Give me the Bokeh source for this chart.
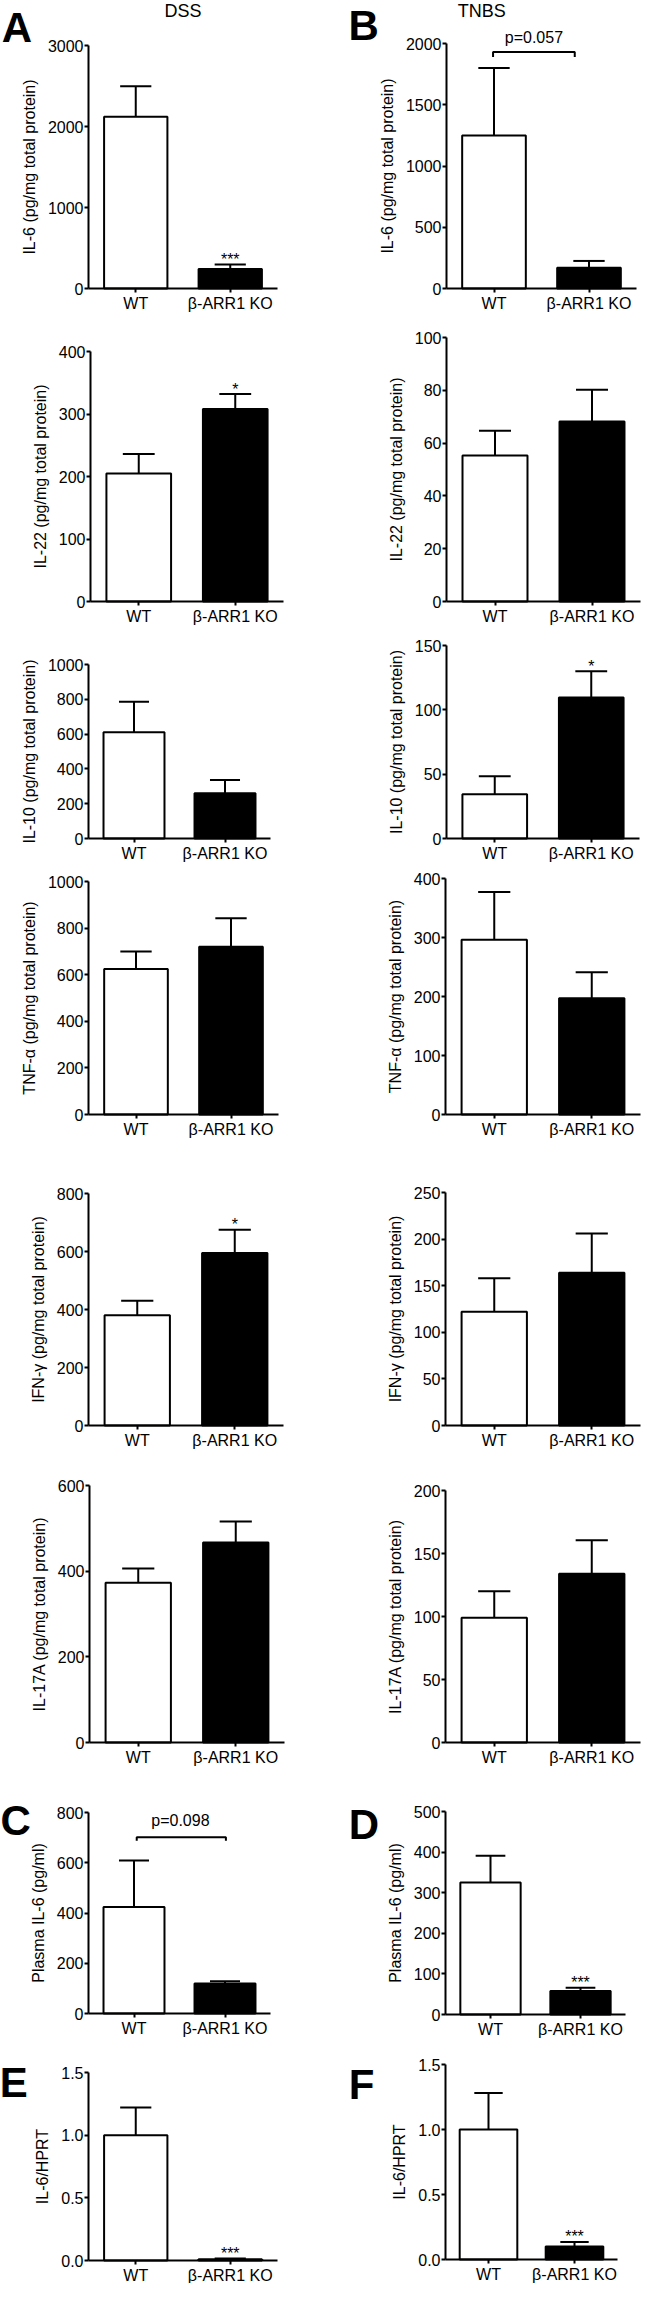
from bokeh.plotting import figure
from bokeh.layouts import column, row
from bokeh.models import Range1d, FixedTicker, NumeralTickFormatter
from bokeh.core.properties import value
from bokeh.embed import file_html
from bokeh.resources import INLINE

FONT = "Liberation Sans"

# ---------------- data ----------------
groups = ["WT", "β-ARR1 KO"]

# DSS (column A, C, E)
dss_il6 = [2120, 240]
dss_il6_err = [377, 57]
dss_il6_ticks = [0, 1000, 2000, 3000]
dss_il6_sig = ["", "***"]

dss_il22 = [205, 308]
dss_il22_err = [31, 24]
dss_il22_ticks = [0, 100, 200, 300, 400]
dss_il22_sig = ["", "*"]

dss_il10 = [610, 260]
dss_il10_err = [176, 76]
dss_il10_ticks = [0, 200, 400, 600, 800, 1000]

dss_tnf = [625, 720]
dss_tnf_err = [75, 122]
dss_tnf_ticks = [0, 200, 400, 600, 800, 1000]

dss_ifn = [380, 595]
dss_ifn_err = [50, 80]
dss_ifn_ticks = [0, 200, 400, 600, 800]
dss_ifn_sig = ["", "*"]

dss_il17a = [373, 467]
dss_il17a_err = [33, 49]
dss_il17a_ticks = [0, 200, 400, 600]

dss_plasma = [424, 119]
dss_plasma_err = [185, 9]
dss_plasma_ticks = [0, 200, 400, 600, 800]

dss_hprt = [1.0, 0.01]
dss_hprt_err = [0.22, 0.006]
dss_hprt_ticks = [0, 0.5, 1.0, 1.5]
dss_hprt_sig = ["", "***"]

# TNBS (column B, D, F)
tnbs_il6 = [1250, 170]
tnbs_il6_err = [550, 55]
tnbs_il6_ticks = [0, 500, 1000, 1500, 2000]

tnbs_il22 = [55.3, 68.2]
tnbs_il22_err = [9.4, 12]
tnbs_il22_ticks = [0, 20, 40, 60, 80, 100]

tnbs_il10 = [34.4, 109.6]
tnbs_il10_err = [13.9, 20.4]
tnbs_il10_ticks = [0, 50, 100, 150]
tnbs_il10_sig = ["", "*"]

tnbs_tnf = [296, 197]
tnbs_tnf_err = [81, 44]
tnbs_tnf_ticks = [0, 100, 200, 300, 400]

tnbs_ifn = [122, 164]
tnbs_ifn_err = [36, 42]
tnbs_ifn_ticks = [0, 50, 100, 150, 200, 250]

tnbs_il17a = [99, 134]
tnbs_il17a_err = [21, 26.5]
tnbs_il17a_ticks = [0, 50, 100, 150, 200]

tnbs_plasma = [325, 58]
tnbs_plasma_err = [66, 8]
tnbs_plasma_ticks = [0, 100, 200, 300, 400, 500]
tnbs_plasma_sig = ["", "***"]

tnbs_hprt = [1.0, 0.10]
tnbs_hprt_err = [0.28, 0.035]
tnbs_hprt_ticks = [0, 0.5, 1.0, 1.5]
tnbs_hprt_sig = ["", "***"]

UNIT = " (pg/mg total protein)"

# ---------------- layout (reference pixel geometry) ----------------
S_X, S_Y = 0.975, 0.993
ROWS = [0, 320, 635, 873, 1170, 1475, 1795, 2062, 2299]
COL_W = [322, 319]
COL_X0 = [0, 322]

LEFT_GEOM = [
    (90, 284, 45, 290),
    (92, 290, 353, 605),
    (90, 277, 668.3, 844),
    (90, 285, 887, 1122),
    (90.7, 290, 1201, 1435.3),
    (91.7, 291.7, 1495, 1754),
    (90.7, 277, 1825, 2027.3),
    (90.7, 284, 2086.7, 2276),
]
RIGHT_GEOM = [
    (457, 652, 43, 290),
    (457, 656.7, 339.3, 605.3),
    (457, 655, 649.3, 844),
    (456.7, 656, 884.3, 1122),
    (456.7, 656, 1200, 1435.3),
    (456.7, 656, 1500.7, 1754.3),
    (456.7, 640.7, 1823.3, 2027.7),
    (456.7, 632.7, 2078.3, 2275),
]

BAR_W = 0.67
CAP = 0.165
TXT = "16px"
STAR_GAP_PX = 5


def add_text(p, x, y, s, size=TXT, bold=False, baseline="middle"):
    p.text(x=[x], y=[y], text=[s], text_font=value(FONT), text_font_size=size,
           text_font_style="bold" if bold else "normal", text_align="center",
           text_baseline=baseline, text_color="black")


def make_panel(col, r, mean, err, ticks, ylabel, sig=None, fmt="0",
               letter=None, title=None, bracket=None):
    axis_ref, end_ref, top_ref, zero_ref = (LEFT_GEOM if col == 0 else RIGHT_GEOM)[r]
    y0 = round(S_Y * ROWS[r])
    y1 = round(S_Y * ROWS[r + 1])
    H = y1 - y0
    W = COL_W[col]
    left = round(S_X * axis_ref) - COL_X0[col]
    fw = round(S_X * end_ref) - round(S_X * axis_ref)
    right = W - left - fw
    top = round(S_Y * top_ref) - y0
    fh = round(S_Y * zero_ref) - round(S_Y * top_ref)
    bottom = H - top - fh

    ymax = ticks[-1]
    ux = fw / 2.0
    uy = fh / ymax
    xr = Range1d(0.5 - left / ux, 2.5 + right / ux)
    yr = Range1d(-bottom / uy, ymax + top / uy)

    p = figure(width=W, height=H, x_range=xr, y_range=yr, min_border=0,
               output_backend="svg", toolbar_location=None, tools="")
    p.xgrid.visible = False
    p.ygrid.visible = False
    p.outline_line_color = None
    p.background_fill_color = "white"
    p.border_fill_color = "white"

    xs = [i + 1 for i in range(len(groups))]
    tops = [m + e for m, e in zip(mean, err)]

    # error bars (upper only)
    p.segment(x0=xs, y0=mean, x1=xs, y1=tops, line_color="black", line_width=2)
    p.segment(x0=[x - CAP for x in xs], y0=tops, x1=[x + CAP for x in xs], y1=tops,
              line_color="black", line_width=2)
    # bars
    p.vbar(x=xs, top=mean, bottom=0, width=BAR_W,
           fill_color=["white", "black"], line_color="black", line_width=2)

    if sig is not None:
        p.text(x=xs, y=[t + STAR_GAP_PX / uy for t in tops], text=sig,
               text_align="center", text_baseline="alphabetic",
               text_font=value(FONT), text_font_size=TXT, text_color="black")

    for ax in (p.xaxis[0], p.yaxis[0]):
        ax.axis_line_width = 2
        ax.axis_line_color = "black"
        ax.major_tick_line_width = 2
        ax.major_tick_line_color = "black"
        ax.major_tick_out = 4
        ax.major_tick_in = 0
        ax.minor_tick_out = 0
        ax.minor_tick_in = 0
        ax.major_label_text_font = FONT
        ax.major_label_text_font_size = TXT
        ax.major_label_text_color = "black"

    p.yaxis.fixed_location = 0.5
    p.yaxis.bounds = (0, ymax)
    p.yaxis.ticker = FixedTicker(ticks=ticks)
    p.yaxis.formatter = NumeralTickFormatter(format=fmt)
    p.yaxis.major_label_standoff = 1
    p.yaxis.axis_label = ylabel
    p.yaxis.axis_label_text_font = FONT
    p.yaxis.axis_label_text_font_size = TXT
    p.yaxis.axis_label_text_font_style = "normal"
    p.yaxis.axis_label_text_color = "black"
    p.yaxis.axis_label_standoff = 7

    p.xaxis.fixed_location = 0
    p.xaxis.bounds = (0.5, 2.5)
    p.xaxis.ticker = FixedTicker(ticks=xs)
    p.xaxis.major_label_overrides = {x: g for x, g in zip(xs, groups)}
    p.xaxis.major_label_standoff = 2

    if letter is not None:
        s, dx, dy = letter
        add_text(p, 0.5 + dx * S_X / ux, ymax + dy * S_Y / uy, s, size="42px", bold=True)
    if title is not None:
        s, tx, dy = title
        add_text(p, tx, ymax + dy * S_Y / uy, s, size="18px")
    if bracket is not None:
        bx0, bx1, by, btip, ptxt, ptx, pdy = bracket
        p.line(x=[bx0, bx0, bx1, bx1], y=[btip, by, by, btip], line_color="black",
               line_width=2)
        add_text(p, ptx, by + pdy / uy, ptxt)
    return p


left = [
    make_panel(0, 0, dss_il6, dss_il6_err, dss_il6_ticks, "IL-6" + UNIT, sig=dss_il6_sig,
               letter=("A", -73.5, 18), title=("DSS", 1.5, 35)),
    make_panel(0, 1, dss_il22, dss_il22_err, dss_il22_ticks, "IL-22" + UNIT, sig=dss_il22_sig),
    make_panel(0, 2, dss_il10, dss_il10_err, dss_il10_ticks, "IL-10" + UNIT),
    make_panel(0, 3, dss_tnf, dss_tnf_err, dss_tnf_ticks, "TNF-α" + UNIT),
    make_panel(0, 4, dss_ifn, dss_ifn_err, dss_ifn_ticks, "IFN-γ" + UNIT, sig=dss_ifn_sig),
    make_panel(0, 5, dss_il17a, dss_il17a_err, dss_il17a_ticks, "IL-17A" + UNIT),
    make_panel(0, 6, dss_plasma, dss_plasma_err, dss_plasma_ticks, "Plasma IL-6 (pg/ml)",
               letter=("C", -74.7, -8),
               bracket=(1.03, 2.01, 701, 688, "p=0.098", 1.51, 17)),
    make_panel(0, 7, dss_hprt, dss_hprt_err, dss_hprt_ticks, "IL-6/HPRT", sig=dss_hprt_sig,
               fmt="0.0", letter=("E", -76.7, -10.3)),
]
right = [
    make_panel(1, 0, tnbs_il6, tnbs_il6_err, tnbs_il6_ticks, "IL-6" + UNIT,
               letter=("B", -85, 18), title=("TNBS", 0.87, 33),
               bracket=(0.99, 1.85, 1930, 1889, "p=0.057", 1.42, 15)),
    make_panel(1, 1, tnbs_il22, tnbs_il22_err, tnbs_il22_ticks, "IL-22" + UNIT),
    make_panel(1, 2, tnbs_il10, tnbs_il10_err, tnbs_il10_ticks, "IL-10" + UNIT, sig=tnbs_il10_sig),
    make_panel(1, 3, tnbs_tnf, tnbs_tnf_err, tnbs_tnf_ticks, "TNF-α" + UNIT),
    make_panel(1, 4, tnbs_ifn, tnbs_ifn_err, tnbs_ifn_ticks, "IFN-γ" + UNIT),
    make_panel(1, 5, tnbs_il17a, tnbs_il17a_err, tnbs_il17a_ticks, "IL-17A" + UNIT),
    make_panel(1, 6, tnbs_plasma, tnbs_plasma_err, tnbs_plasma_ticks, "Plasma IL-6 (pg/ml)",
               sig=tnbs_plasma_sig, letter=("D", -83.7, -12.7)),
    make_panel(1, 7, tnbs_hprt, tnbs_hprt_err, tnbs_hprt_ticks, "IL-6/HPRT", sig=tnbs_hprt_sig,
               fmt="0.0", letter=("F", -86.2, -19.7)),
]

layout = column(*[row(l, r) for l, r in zip(left, right)])

open("out.html", "w").write(file_html(layout, INLINE))
